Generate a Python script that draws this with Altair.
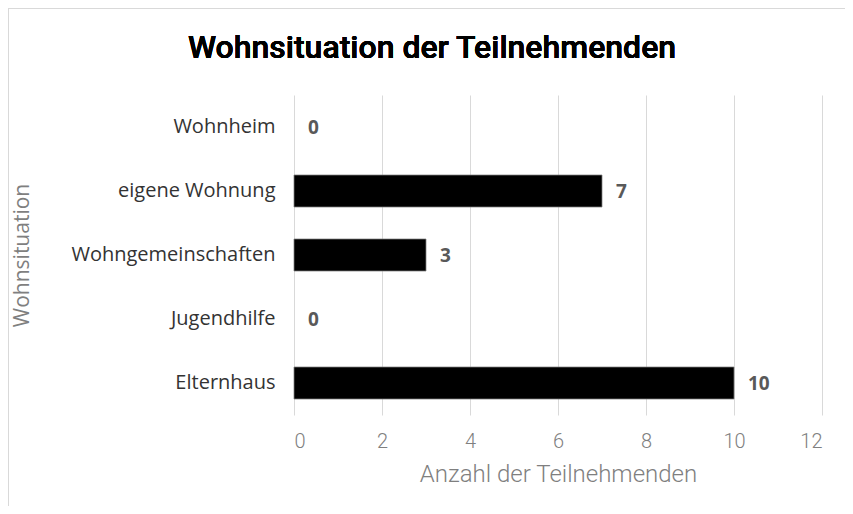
import altair as alt
import pandas as pd

categories = ["Wohnheim", "eigene Wohnung", "Wohngemeinschaften", "Jugendhilfe", "Elternhaus"]
values = [0, 7, 3, 0, 10]
x_ticks = [0, 2, 4, 6, 8, 10, 12]
chart_title = "Wohnsituation der Teilnehmenden"

df = pd.DataFrame({"Kategorie": categories, "Anzahl": values})

FONT = "Roboto"
LFONT = "Open Sans"

base = alt.Chart(df)

bars = base.mark_bar(color="#000000", stroke="#7f7f7f", strokeWidth=0.75).encode(
    y=alt.Y("Kategorie:N", sort=categories,
            scale=alt.Scale(paddingInner=0.5, paddingOuter=0.25),
            axis=alt.Axis(title="Wohnsituation", domain=False, ticks=False,
                          labelPadding=19, labelFont=LFONT, labelFontSize=20,
                          labelLimit=300,
                          labelColor="#333333", titleFont=LFONT, titleFontSize=21,
                          titleFontWeight="normal", titleColor="#7f7f7f",
                          titleX=-272, titleY=160, titleAngle=-90,
                          titleAlign="center", titleBaseline="middle")),
    x=alt.X("Anzahl:Q", scale=alt.Scale(domain=[0, 12], nice=False),
            axis=alt.Axis(values=x_ticks, title="Anzahl der Teilnehmenden",
                          domain=False, ticks=False, grid=True, gridColor="#d9d9d9",
                          labelPadding=16, labelFont=FONT, labelFontSize=20,
                          labelFontWeight=300,
                          labelColor="#7f7f7f", titleFont=FONT, titleFontSize=24,
                          titleFontWeight=300, titleColor="#7f7f7f",
                          titlePadding=11)),
    strokeOpacity=alt.condition("datum.Anzahl > 0", alt.value(1), alt.value(0)),
)

labels = base.mark_text(align="left", baseline="middle", dx=14, dy=1,
                        font=LFONT, fontSize=19, fontWeight="bold",
                        color="#595959").encode(
    y=alt.Y("Kategorie:N", sort=categories),
    x="Anzahl:Q",
    text="Anzahl:Q",
)

title = base.mark_text(font=FONT, fontSize=32, fontWeight=500, color="#000000",
                       align="center", baseline="alphabetic").encode(
    x=alt.value(138), y=alt.value(-37), text=alt.value(chart_title)
)

frame_top = base.mark_rule(color="#d9d9d9", strokeWidth=1).encode(
    x=alt.value(-286), x2=alt.value(600), y=alt.value(-86.5)
)
frame_left = base.mark_rule(color="#d9d9d9", strokeWidth=1).encode(
    x=alt.value(-285.5), y=alt.value(-87), y2=alt.value(500)
)

chart = alt.layer(frame_top, frame_left, bars, labels, title).properties(
    width=528, height=320,
    padding={"left": 286, "top": 87, "right": 23, "bottom": 91},
    autosize=alt.AutoSizeParams(type="none"),
).configure_view(stroke=None)

chart.save("out.html", embed_options={"renderer": "svg", "actions": False})
